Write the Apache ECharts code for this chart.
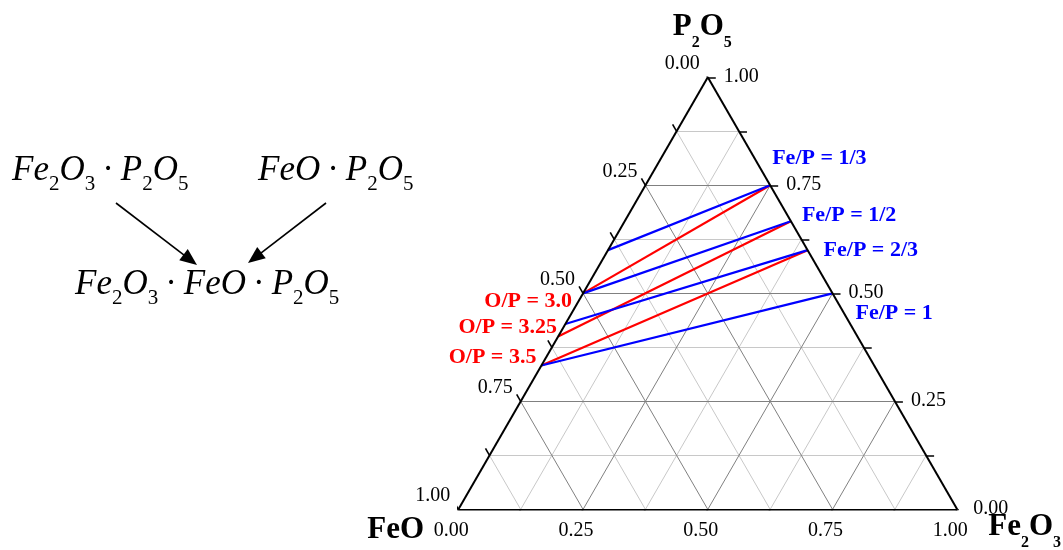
<!DOCTYPE html>
<html>
<head>
<meta charset="utf-8">
<script src="https://cdn.jsdelivr.net/npm/echarts@6/dist/echarts.min.js"></script>
<style>html,body{margin:0;padding:0;background:#fff}#c{width:1063px;height:550px}</style>
</head>
<body>
<div id="c"></div>
<script>
// ---- data (ternary compositions are [Fe2O3, FeO, P2O5] mole fractions) ----
const gridValues = [0.125, 0.25, 0.375, 0.5, 0.625, 0.75, 0.875];
const majorValues = [0.25, 0.5, 0.75];
const tickValues = [0, 0.125, 0.25, 0.375, 0.5, 0.625, 0.75, 0.875, 1];
const labelValues = [0, 0.25, 0.5, 0.75, 1];
const tickLabels = ['0.00', '0.25', '0.50', '0.75', '1.00'];
const vertexNames = ['FeO', 'Fe2O3', 'P2O5'];

const fePLabels = ['Fe/P = 1/3', 'Fe/P = 1/2', 'Fe/P = 2/3', 'Fe/P = 1'];
const fePStart = [[0, 0.4, 0.6], [0, 0.5, 0.5], [0, 0.571, 0.429], [0, 0.667, 0.333]];
const fePEnd = [[0.25, 0, 0.75], [0.333, 0, 0.667], [0.4, 0, 0.6], [0.5, 0, 0.5]];

const oPLabels = ['O/P = 3.0', 'O/P = 3.25', 'O/P = 3.5'];
const oPStart = [[0, 0.5, 0.5], [0, 0.6, 0.4], [0, 0.667, 0.333]];
const oPEnd = [[0.25, 0, 0.75], [0.333, 0, 0.667], [0.4, 0, 0.6]];

// ---- helpers ----
const SQ = Math.sqrt(3) / 2;
const toXY = c => [c[0] + c[2] / 2, c[2] * SQ];
const FONT = 'Liberation Serif';
const TL = 0.016; // tick length in axis units

function seg(a, b) { return { coords: [toXY(a), toXY(b)] }; }
function isMajor(t) { return majorValues.indexOf(t) >= 0; }

const minorLines = [], majorLines = [];
gridValues.forEach(t => {
  const arr = isMajor(t) ? majorLines : minorLines;
  arr.push(seg([0, 1 - t, t], [1 - t, 0, t]));   // constant P2O5
  arr.push(seg([t, 1 - t, 0], [t, 0, 1 - t]));   // constant Fe2O3
  arr.push(seg([1 - t, t, 0], [0, t, 1 - t]));   // constant FeO
});
const edges = [seg([0, 1, 0], [1, 0, 0]), seg([1, 0, 0], [0, 0, 1]), seg([0, 0, 1], [0, 1, 0])];
const ticks = [];
tickValues.forEach(t => {
  const p = toXY([1 - t, 0, t]);
  ticks.push({ coords: [p, [p[0] + TL, p[1]]] });
  const b = toXY([t, 1 - t, 0]);
  ticks.push({ coords: [b, [b[0] - TL / 2, b[1] - TL * SQ]] });
  const l = toXY([0, t, 1 - t]);
  ticks.push({ coords: [l, [l[0] - TL / 2, l[1] + TL * SQ]] });
});

function linesSeries(data, color, width, z) {
  return { type: 'lines', coordinateSystem: 'cartesian2d', polyline: false, silent: true, z: z,
    data: data, lineStyle: { color: color, width: width, opacity: 1 }, symbol: 'none' };
}
function textSeries(pts, texts, style, offsets) {
  return {
    type: 'custom', coordinateSystem: 'cartesian2d', silent: true, z: 30,
    data: pts.map((p, i) => [p[0], p[1], i]),
    renderItem: function (params, api) {
      const i = api.value(2);
      const c = api.coord([api.value(0), api.value(1)]);
      const o = Array.isArray(offsets[0]) ? offsets[i] : offsets;
      return { type: 'text', x: c[0] + o[0], y: c[1] + o[1],
        style: Object.assign({ text: texts[i] }, style) };
    }
  };
}
const tickFont = { fontFamily: FONT, fontSize: 20, fill: '#000' };

const boldRich = {
  b: { fontFamily: FONT, fontWeight: 'bold', fontSize: 31, fill: '#000' },
  s: { fontFamily: FONT, fontWeight: 'bold', fontSize: 16, fill: '#000', padding: [31, 0, 0, 0] }
};
function subText(name) { return name.replace(/([A-Za-z]+)/g, '{b|$1}').replace(/(\d)/g, '{s|$1}'); }

const mathRich = {
  i: { fontFamily: FONT, fontStyle: 'italic', fontSize: 35, fill: '#000' },
  s: { fontFamily: FONT, fontSize: 21, fill: '#000', padding: [27, 0, 0, 0] },
  d: { fontFamily: FONT, fontSize: 35, fill: '#000', padding: [0, 7, 0, 7] }
};
const formula1 = '{i|Fe}{s|2}{i|O}{s|3}{d|·}{i|P}{s|2}{i|O}{s|5}';
const formula2 = '{i|FeO}{d|·}{i|P}{s|2}{i|O}{s|5}';
const formula3 = '{i|Fe}{s|2}{i|O}{s|3}{d|·}{i|FeO}{d|·}{i|P}{s|2}{i|O}{s|5}';

function arrow(x1, y1, x2, y2) {
  const dx = x2 - x1, dy = y2 - y1, L = Math.hypot(dx, dy), ux = dx / L, uy = dy / L;
  const hl = 17, hw = 7;
  const bx = x2 - ux * hl, by = y2 - uy * hl;
  return [
    { type: 'line', shape: { x1: x1, y1: y1, x2: bx + ux * 2, y2: by + uy * 2 }, style: { stroke: '#000', lineWidth: 1.6 } },
    { type: 'polygon', shape: { points: [[x2, y2], [bx - uy * hw, by + ux * hw], [bx + uy * hw, by - ux * hw]] }, style: { fill: '#000' } }
  ];
}

const option = {
  backgroundColor: '#fff',
  animation: false,
  grid: { left: 458.3, top: 77.3, width: 499, height: 432.1, outerBoundsMode: 'none', containLabel: false },
  xAxis: { type: 'value', min: 0, max: 1, show: false },
  yAxis: { type: 'value', min: 0, max: SQ, show: false },
  series: [
    linesSeries(minorLines, '#c8c8c8', 1, 1),
    linesSeries(majorLines, '#808080', 1, 2),
    linesSeries(oPStart.map((s, i) => seg(s, oPEnd[i])), '#ff0000', 2.2, 5),
    linesSeries(fePStart.map((s, i) => seg(s, fePEnd[i])), '#0000ff', 2.2, 6),
    linesSeries(edges, '#000', 2, 10),
    linesSeries(ticks, '#000', 1.6, 10),
    // tick labels
    textSeries(labelValues.map(v => toXY([1 - v, 0, v])), tickLabels,
      Object.assign({ align: 'left', verticalAlign: 'middle' }, tickFont), [16, -1]),
    textSeries(labelValues.map(v => toXY([0, v, 1 - v])), tickLabels,
      Object.assign({ align: 'right', verticalAlign: 'middle' }, tickFont), [-8, -14]),
    textSeries(labelValues.map(v => toXY([v, 1 - v, 0])), tickLabels,
      Object.assign({ align: 'center', verticalAlign: 'middle' }, tickFont), [-7, 21]),
    // vertex names
    textSeries([toXY([0, 1, 0]), toXY([1, 0, 0]), toXY([0, 0, 1])], vertexNames.map(subText),
      { rich: boldRich, verticalAlign: 'middle', align: 'left' }, [[-91, 21], [31, 18], [-35, -50]]),
    // line labels
    textSeries(fePEnd.map(toXY), fePLabels,
      { align: 'left', verticalAlign: 'middle', fontFamily: FONT, fontWeight: 'bold', fontSize: 22, fill: '#0000ff' },
      [[2, -27], [11, -6], [16, 0], [23, 20]]),
    textSeries(oPStart.map(toXY), oPLabels,
      { align: 'right', verticalAlign: 'middle', fontFamily: FONT, fontWeight: 'bold', fontSize: 22, fill: '#ff0000' },
      [[-11, 8], [-1, -9], [-5, -8]])
  ],
  graphic: [
    { type: 'text', x: 12, y: 171, style: { text: formula1, rich: mathRich, align: 'left', verticalAlign: 'middle' } },
    { type: 'text', x: 258, y: 171, style: { text: formula2, rich: mathRich, align: 'left', verticalAlign: 'middle' } },
    { type: 'text', x: 75, y: 285, style: { text: formula3, rich: mathRich, align: 'left', verticalAlign: 'middle' } }
  ].concat(arrow(116, 203, 197, 265), arrow(326, 203, 248, 263))
};

const chart = echarts.init(document.getElementById('c'));
chart.setOption(option);
</script>
</body>
</html>
